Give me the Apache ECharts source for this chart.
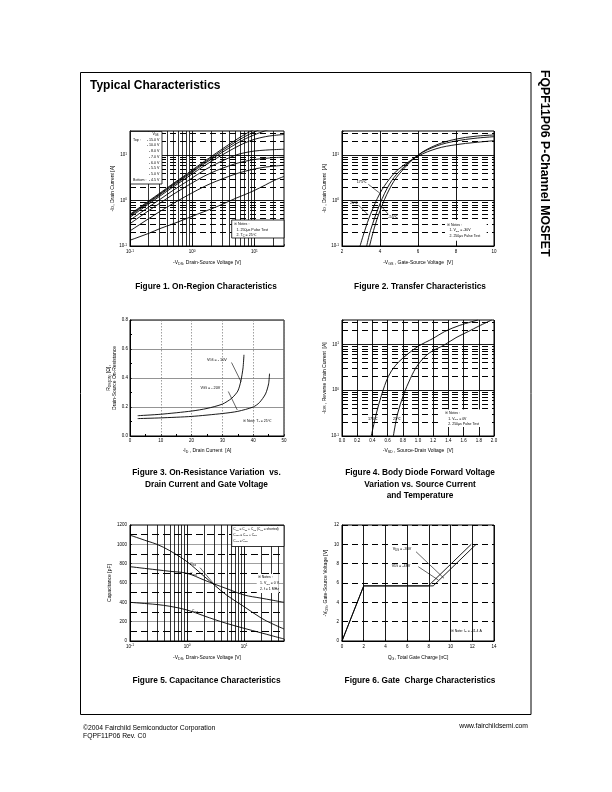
<!DOCTYPE html>
<html><head><meta charset="utf-8">
<script src="https://cdn.jsdelivr.net/npm/echarts@6/dist/echarts.min.js"></script>
<style>html,body{margin:0;padding:0;background:#fff}#c{width:612px;height:792px}</style>
</head><body><div id="c"></div>
<script>
const F = '"Liberation Sans", Arial, Helvetica, sans-serif';

// ---------- Figure 1: On-Region Characteristics ----------
const fig1Vds = [0.1,0.2,0.3,0.5,0.7,1,1.5,2,3,5,7,10,15,20,30];
const fig1Id_15 = [0.50,0.98,1.45,2.4,3.3,4.7,7.0,9.2,13.5,21.5,28.5,37,47,55,66];
const fig1Id_10 = [0.48,0.94,1.39,2.3,3.15,4.45,6.6,8.6,12.5,19.5,25.5,32.5,41,47,55];
const fig1Id_8  = [0.46,0.90,1.33,2.18,2.98,4.2,6.2,8.0,11.4,17.5,22.5,28,34.5,39,45];
const fig1Id_7  = [0.43,0.84,1.24,2.02,2.75,3.85,5.6,7.2,10.0,14.8,18.5,22.3,25.5,27,28.5];
const fig1Id_6  = [0.37,0.72,1.05,1.7,2.28,3.15,4.5,5.6,7.4,10.0,11.3,12.3,12.9,13.2,13.5];
const fig1Id_55 = [0.31,0.60,0.87,1.38,1.83,2.45,3.35,4.05,5.1,6.5,7.3,8.0,8.5,8.8,9.0];
const fig1Id_5  = [0.215,0.40,0.57,0.87,1.13,1.48,1.98,2.38,2.98,3.85,4.4,4.95,5.45,5.7,6.0];
const fig1Id_45 = [0.134,0.19,0.24,0.31,0.37,0.45,0.56,0.65,0.82,1.12,1.35,1.67,2.2,2.7,3.4];
const fig1LegendLabels = ['- 15.0 V','- 10.0 V','- 8.0 V','- 7.0 V','- 6.0 V','- 5.5 V','- 5.0 V','- 4.5 V'];

// ---------- Figure 2: Transfer Characteristics ----------
const fig2Vgs_175 = [2.95,3.2,3.5,4,4.5,5,6,7,8,9,10];
const fig2Id_175  = [0.1,0.22,0.5,1.45,3.0,5.0,9.5,14,17,19,20.8];
const fig2Vgs_25  = [3.3,3.5,4,4.5,5,6,7,8,9,10];
const fig2Id_25   = [0.1,0.22,0.85,2.3,4.3,10,16,20.5,23.5,25.5];
const fig2Vgs_m55 = [3.45,3.7,4,4.5,5,6,7,8,9,10];
const fig2Id_m55  = [0.1,0.25,0.6,1.8,3.8,10,17,22.5,26,27.8];

// ---------- Figure 3: On-Resistance ----------
const fig3Id_10 = [2.5,10,20,25,30,33,35,36,36.7,37];
const fig3R_10  = [0.14,0.15,0.172,0.19,0.22,0.26,0.31,0.38,0.47,0.56];
const fig3Id_20 = [2.5,10,20,30,35,40,42,44,45,45.3];
const fig3R_20  = [0.12,0.125,0.135,0.155,0.17,0.2,0.23,0.29,0.36,0.43];

// ---------- Figure 4: Body Diode ----------
const fig4Vsd_175 = [0.385,0.45,0.52,0.61,0.7,0.8,1.0,1.2,1.35,1.55,1.79];
const fig4Id_175  = [0.1,0.3,0.78,2.0,3.4,5.0,9.0,13.5,19,26,34];
const fig4Vsd_25  = [0.676,0.73,0.81,0.9,1.0,1.15,1.35,1.5,1.66,1.8,1.97];
const fig4Id_25   = [0.1,0.3,0.79,1.8,3.6,6.5,9.8,14,19,25,34];

// ---------- Figure 5: Capacitance ----------
const fig5Vds  = [0.1,0.2,0.3,0.5,1,2,3,5,10,20,30,50];
const fig5Ciss = [1095,1034,999,934,820,668,580,472,355,237,183,124];
const fig5Coss = [769,748,736,721,700,630,589,541,476,443,424,400];
const fig5Crss = [400,386,377,359,321,259,223,181,131,84,56,21];

// ---------- Figure 6: Gate Charge ----------
const fig6Qg_30 = [0,2,7.95,11.9];
const fig6V_30  = [0,5.7,5.7,10];
const fig6Qg_48 = [0,2,8.4,12.35];
const fig6V_48  = [0,5.7,5.7,10];

// ---------- helpers ----------
function merge(a,b){const o=Object.assign({},a);for(const k in b){if(b[k]&&typeof b[k]==='object'&&!Array.isArray(b[k])&&a[k]&&typeof a[k]==='object'&&!Array.isArray(a[k]))o[k]=merge(a[k],b[k]);else o[k]=b[k];}return o;}
function logFmt(v){const e=Math.log10(v);const r=Math.round(e);if(Math.abs(e-r)>1e-6)return '';return '10{sup|'+r+'}';}
function logMinors(min,max){const r=[];for(let e=Math.floor(Math.log10(min));e<=Math.floor(Math.log10(max));e++){for(let k=2;k<=9;k++){const v=+(k*Math.pow(10,e)).toPrecision(6);if(v>min*1.0001&&v<max*0.9999)r.push(v);}}return r;}
function logMajors(min,max){const r=[];for(let e=Math.ceil(Math.log10(min));e<=Math.floor(Math.log10(max));e++){const v=+Math.pow(10,e).toPrecision(6);if(v>min*1.0001&&v<max*0.9999)r.push(v);}return r;}
const SOLID = {color:'#000',width:0.8,type:'solid'};
const DASH = {color:'#000',width:1.1,type:[6,4]};
function vl(vals,ls){return vals.map(v=>({xAxis:v,lineStyle:ls}));}
function hl(vals,ls){return vals.map(v=>({yAxis:v,lineStyle:ls}));}
function gridLines(gi,items){return {type:'line',xAxisIndex:gi,yAxisIndex:gi,data:[],z:1,silent:true,animation:false,
  markLine:{silent:true,symbol:['none','none'],label:{show:false},animation:false,emphasis:{disabled:true},data:items}};}
function curve(gi,xs,ys,smooth){return {type:'line',xAxisIndex:gi,yAxisIndex:gi,data:xs.map((x,i)=>[x,ys[i]]),
  symbol:'none',showSymbol:false,smooth:smooth===undefined?0.35:smooth,silent:true,animation:false,z:5,clip:true,
  lineStyle:{color:'#000',width:0.9}};}

const baseAxis = {
  axisLine:{show:true,onZero:false,lineStyle:{color:'#000',width:1}},
  axisTick:{show:true,inside:true,length:2,lineStyle:{color:'#000',width:0.6}},
  axisLabel:{fontSize:4.5,color:'#000',fontFamily:F,margin:3,formatter:v=>String(v),
    rich:{sup:{fontSize:3.2,fontFamily:F,color:'#000',padding:[0,0,2.5,0]}}},
  splitLine:{show:false},
  nameLocation:'middle',
  nameTextStyle:{fontSize:5,color:'#000',fontFamily:F,lineHeight:6,
    rich:{sub:{fontSize:3.6,fontFamily:F,color:'#000',padding:[2.2,0,0,0]}}}
};
function ax(o){return merge(baseAxis,o);}

const grids = [
  {left:130,top:131,width:154,height:115},
  {left:342,top:131,width:152,height:115},
  {left:130,top:320,width:154,height:116},
  {left:342,top:320,width:152,height:116},
  {left:130,top:525,width:154,height:116},
  {left:342,top:525,width:152,height:116}
].map(g=>Object.assign(g,{show:true,borderColor:'#000',borderWidth:1,backgroundColor:'transparent',containLabel:false}));

const X1=[0.1,30], Y1=[0.1,34], X5=[0.1,50];
const xAxis = [
  ax({gridIndex:0,type:'log',min:X1[0],max:X1[1],axisLabel:{formatter:logFmt,margin:3.5},name:'-V{sub|DS}, Drain-Source Voltage [V]',nameGap:14}),
  ax({gridIndex:1,type:'value',min:2,max:10,interval:2,splitLine:{show:true,lineStyle:{color:'#000',width:0.9}},axisLabel:{margin:3.5},name:'-V{sub|GS} , Gate-Source Voltage  [V]',nameGap:14}),
  ax({gridIndex:2,type:'value',min:0,max:50,interval:10,minorTick:{show:true,splitNumber:2,length:2},splitLine:{show:true,lineStyle:{color:'#777',width:0.7,type:[1.5,1.5]}},axisLabel:{margin:1.8},name:'-I{sub|D} , Drain Current  [A]',nameGap:11.5}),
  ax({gridIndex:3,type:'value',min:0,max:2,interval:0.2,splitLine:{show:true,lineStyle:{color:'#000',width:0.9}},axisLabel:{margin:1.8,formatter:v=>v.toFixed(1)},name:'-V{sub|SD} , Source-Drain Voltage  [V]',nameGap:11.5}),
  ax({gridIndex:4,type:'log',min:X5[0],max:X5[1],axisLabel:{formatter:logFmt,margin:3},name:'-V{sub|DS}, Drain-Source Voltage [V]',nameGap:14}),
  ax({gridIndex:5,type:'value',min:0,max:14,interval:2,splitLine:{show:true,lineStyle:{color:'#000',width:0.9}},axisLabel:{margin:3},name:'Q{sub|G}, Total Gate Charge [nC]',nameGap:14})
];
const yAxis = [
  ax({gridIndex:0,type:'log',min:Y1[0],max:Y1[1],axisLabel:{formatter:logFmt,margin:3},name:'-I{sub|D}, Drain Current [A]',nameGap:12}),
  ax({gridIndex:1,type:'log',min:Y1[0],max:Y1[1],axisLabel:{formatter:logFmt,margin:3},name:'-I{sub|D} , Drain Current  [A]',nameGap:14}),
  ax({gridIndex:2,type:'value',min:0,max:0.8,interval:0.2,minorTick:{show:true,splitNumber:2,length:2},splitLine:{show:true,lineStyle:{color:'#666',width:0.7}},axisLabel:{margin:2,formatter:v=>v.toFixed(1)},name:'R{sub|DS(ON)} [Ω],\nDrain-Source On-Resistance',nameGap:12}),
  ax({gridIndex:3,type:'log',min:Y1[0],max:Y1[1],axisLabel:{formatter:logFmt,margin:3},name:'-I{sub|DR} , Reverse Drain Current  [A]',nameGap:13}),
  ax({gridIndex:4,type:'value',min:0,max:1200,interval:200,splitLine:{show:true,lineStyle:{color:'#777',width:0.7}},axisLabel:{margin:3},name:'Capacitance [pF]',nameGap:15}),
  ax({gridIndex:5,type:'value',min:0,max:12,interval:2,splitLine:{show:true,lineStyle:{color:'#000',width:1.1,type:[6,4]}},axisLabel:{margin:3},name:'-V{sub|GS}, Gate-Source Voltage [V]',nameGap:13})
];

const MAJ = {color:'#000',width:0.9,type:'solid'};
const series = [
  gridLines(0, vl(logMinors(X1[0],X1[1]),SOLID).concat(vl(logMajors(X1[0],X1[1]),MAJ),hl(logMinors(Y1[0],Y1[1]),DASH),hl(logMajors(Y1[0],Y1[1]),MAJ))),
  gridLines(1, hl(logMinors(Y1[0],Y1[1]),DASH).concat(hl(logMajors(Y1[0],Y1[1]),MAJ))),
  gridLines(3, hl(logMinors(Y1[0],Y1[1]),DASH).concat(hl(logMajors(Y1[0],Y1[1]),MAJ))),
  gridLines(4, vl(logMinors(X5[0],X5[1]),SOLID).concat(vl(logMajors(X5[0],X5[1]),MAJ),hl([100,300,500,700,900,1100],{color:'#000',width:1.1,type:[7,4]}))),
  curve(0,fig1Vds,fig1Id_15), curve(0,fig1Vds,fig1Id_10), curve(0,fig1Vds,fig1Id_8), curve(0,fig1Vds,fig1Id_7),
  curve(0,fig1Vds,fig1Id_6), curve(0,fig1Vds,fig1Id_55), curve(0,fig1Vds,fig1Id_5), curve(0,fig1Vds,fig1Id_45),
  curve(1,fig2Vgs_175,fig2Id_175), curve(1,fig2Vgs_25,fig2Id_25), curve(1,fig2Vgs_m55,fig2Id_m55),
  curve(2,fig3Id_10,fig3R_10,0.25), curve(2,fig3Id_20,fig3R_20,0.25),
  curve(3,fig4Vsd_175,fig4Id_175), curve(3,fig4Vsd_25,fig4Id_25),
  curve(4,fig5Vds,fig5Ciss), curve(4,fig5Vds,fig5Coss), curve(4,fig5Vds,fig5Crss),
  curve(5,fig6Qg_30,fig6V_30,false), curve(5,fig6Qg_48,fig6V_48,false)
];

// ---------- graphic annotations ----------
function T(x,y,text,o){o=o||{};const fs=o.fs||3.8;const al=o.align||'left',va=o.va||'middle';
  return {type:'text',x:x,y:y,z:120,silent:true,rotation:o.rot||0,
    style:{text:text,fontSize:fs,fontFamily:F,fontWeight:o.bold?'bold':'normal',fill:'#000',
      align:al,verticalAlign:va,textAlign:al,textVerticalAlign:va,
      rich:{sub:{fontSize:fs*0.72,fontFamily:F,fill:'#000',color:'#000',padding:[fs*0.45,0,0,0]}}}};}
function L(x1,y1,x2,y2,w){return {type:'line',z:118,silent:true,shape:{x1:x1,y1:y1,x2:x2,y2:y2},style:{stroke:'#000',lineWidth:w||0.6}};}
function Rc(x,y,w,h,stroke){return {type:'rect',z:115,silent:true,shape:{x:x,y:y,width:w,height:h},style:{fill:'#fff',stroke:stroke?'#000':null,lineWidth:0.8}};}

const G = [];
G.push({type:'rect',z:100,silent:true,shape:{x:80.5,y:72.5,width:450.5,height:642},style:{fill:null,stroke:'#000',lineWidth:1}});
G.push(T(90,80,'Typical Characteristics',{fs:12,bold:true,va:'top'}));
G.push(T(550,70,'FQPF11P06 P-Channel MOSFET',{fs:12.3,bold:true,va:'top',rot:-Math.PI/2}));
// captions
const CF = 8.3;
G.push(T(206,287,'Figure 1. On-Region Characteristics',{fs:CF,bold:true,align:'center'}));
G.push(T(420,287,'Figure 2. Transfer Characteristics',{fs:CF,bold:true,align:'center'}));
G.push(T(206.5,473,'Figure 3. On-Resistance Variation  vs.',{fs:CF,bold:true,align:'center'}));
G.push(T(206.5,484.5,'Drain Current and Gate Voltage',{fs:CF,bold:true,align:'center'}));
G.push(T(420,473,'Figure 4. Body Diode Forward Voltage',{fs:CF,bold:true,align:'center'}));
G.push(T(420,484.5,'Variation vs. Source Current',{fs:CF,bold:true,align:'center'}));
G.push(T(420,496,'and Temperature',{fs:CF,bold:true,align:'center'}));
G.push(T(206.5,681,'Figure 5. Capacitance Characteristics',{fs:CF,bold:true,align:'center'}));
G.push(T(420,681,'Figure 6. Gate  Charge Characteristics',{fs:CF,bold:true,align:'center'}));
// footer
G.push(T(83,728,'©2004 Fairchild Semiconductor Corporation',{fs:6.8}));
G.push(T(83,736.5,'FQPF11P06 Rev. C0',{fs:6.8}));
G.push(T(528,726,'www.fairchildsemi.com',{fs:6.8,align:'right'}));

// fig1 legend
G.push(Rc(130.5,131.5,31.5,52.5,true));
G.push(T(158.5,134,'V{sub|GS}',{fs:3.6,align:'right'}));
fig1LegendLabels.forEach((s,i)=>{G.push(T(159.5,139.5+i*5.75,s,{fs:3.6,align:'right'}));});
G.push(T(133,139.5,'Top :',{fs:3.6}));
G.push(T(133,179.8,'Bottom :',{fs:3.6}));
// fig1 notes
G.push(Rc(231.7,220,52.3,18,true));
G.push(T(234,224,'※ Notes :',{fs:3.6}));
G.push(T(236.5,229.5,'1. 250μs Pulse Test',{fs:3.6}));
G.push(T(236.5,235,'2. T{sub|C} = 25℃',{fs:3.6}));

// fig2 annotations
G.push(T(356.7,181.7,'175℃',{fs:3.8}));
G.push(L(368.3,184.3,380,193.3));
G.push(T(350,203.3,'25℃',{fs:3.8}));
G.push(L(358.3,205,368.3,215));
G.push(T(388.3,216.7,'-55℃',{fs:3.8}));
G.push(L(388.3,214.3,381.7,206.7));
G.push(Rc(445,220,41.7,20.7,false));
G.push(T(447,224.7,'※ Notes :',{fs:3.5}));
G.push(T(449.5,230.3,'1. V{sub|DS} = -30V',{fs:3.5}));
G.push(T(449.5,236,'2. 250μs Pulse Test',{fs:3.5}));

// fig3 annotations
G.push(T(207,359.5,'V{sub|GS} = - 10V',{fs:3.8}));
G.push(L(231.5,362.5,241,381.7));
G.push(T(200.5,387.5,'V{sub|GS} = - 20V',{fs:3.8}));
G.push(L(228.3,391.5,237.3,410));
G.push(T(243,421,'※ Note: T{sub|J} = 25℃',{fs:3.5}));

// fig4 annotations
G.push(T(368,418.5,'175℃',{fs:3.8}));
G.push(T(393,418.5,'25℃',{fs:3.8}));
G.push(Rc(441.7,409.5,46.6,17.5,false));
G.push(T(445,413.5,'※ Notes :',{fs:3.5}));
G.push(T(448.3,419,'1. V{sub|GS} = 0V',{fs:3.5}));
G.push(T(448.3,424.3,'2. 250μs Pulse Test',{fs:3.5}));

// fig5 annotations
G.push(Rc(231.7,525.5,52.3,21,true));
G.push(T(233.3,529.3,'C{sub|iss} = C{sub|gs} + C{sub|gd} (C{sub|ds} = shorted)',{fs:3.3}));
G.push(T(233.3,535,'C{sub|oss} = C{sub|ds} + C{sub|gd}',{fs:3.3}));
G.push(T(233.3,540.8,'C{sub|rss} = C{sub|gd}',{fs:3.3}));
G.push(T(190,564.3,'C{sub|iss}',{fs:3.8}));
G.push(L(200,567.7,213.3,583.3));
G.push(T(190,574.3,'C{sub|oss}',{fs:3.8}));
G.push(T(191.7,611,'C{sub|rss}',{fs:3.8}));
G.push(Rc(256.7,574,22,19,false));
G.push(T(257.7,577,'※ Notes :',{fs:3.5}));
G.push(T(260,583.3,'1. V{sub|GS} = 0 V',{fs:3.5}));
G.push(T(260,589,'2. f = 1 MHz',{fs:3.5}));

// fig6 annotations
G.push(T(392.7,549,'V{sub|DS} = -30V',{fs:3.8}));
G.push(L(416,551.7,444,578.3));
G.push(T(391.7,565.7,'V{sub|DS} = -48V',{fs:3.8}));
G.push(L(418.3,566.7,438.3,580));
G.push(T(450.7,631,'※ Note: I{sub|D} = -11.4 A',{fs:3.5}));

const chart = echarts.init(document.getElementById('c'), null, {renderer:'canvas'});
chart.setOption({
  animation:false,
  backgroundColor:'#fff',
  grid:grids, xAxis:xAxis, yAxis:yAxis, series:series, graphic:G
});
</script></body></html>
